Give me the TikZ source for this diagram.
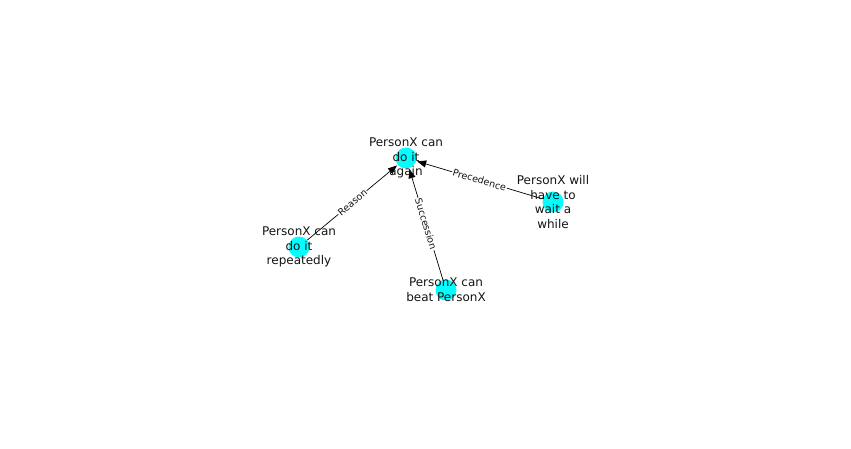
\documentclass[tikz,border=0pt]{standalone}
\usepackage{fontspec}
\setmainfont{DejaVu Sans}
\usetikzlibrary{arrows.meta}
\definecolor{nodecyan}{RGB}{0,255,255}
\definecolor{inkgrey}{RGB}{20,20,20}
\begin{document}
\begin{tikzpicture}[x=1pt,y=-1pt,
  dot/.style={circle,fill=nodecyan,minimum size=21pt,inner sep=0pt},
  caption/.style={align=center,text=inkgrey,font=\fontsize{12}{14.8}\selectfont,inner sep=0pt},
  link/.style={-{Triangle[length=9pt,width=7pt]},line width=0.7pt,black,shorten >=1pt},
  linklabel/.style={sloped,fill=white,inner sep=1pt,font=\fontsize{9.5}{11}\selectfont,text=inkgrey}]
  \useasboundingbox (0,0) rectangle (851,449);
  % nodes
  \node[dot] (again) at (406,158) {};
  \node[dot] (rep)   at (299,247) {};
  \node[dot] (beat)  at (446,290) {};
  \node[dot] (wait)  at (553,202) {};
  % relations
  \draw[link] (rep)  -- node[linklabel] {Reason} (again);
  \draw[link] (beat) -- node[linklabel] {Succession} (again);
  \draw[link] (wait) -- node[linklabel] {Precedence} (again);
  % captions
  \node[caption] (againtxt) at (again) {PersonX can\\do it\\again};
  \node[caption] (reptxt)   at (rep)   {PersonX can\\do it\\repeatedly};
  \node[caption] (beattxt)  at (beat)  {PersonX can\\beat PersonX};
  \node[caption] (waittxt)  at (wait)  {PersonX will\\have to\\wait a\\while};
\end{tikzpicture}
\end{document}
